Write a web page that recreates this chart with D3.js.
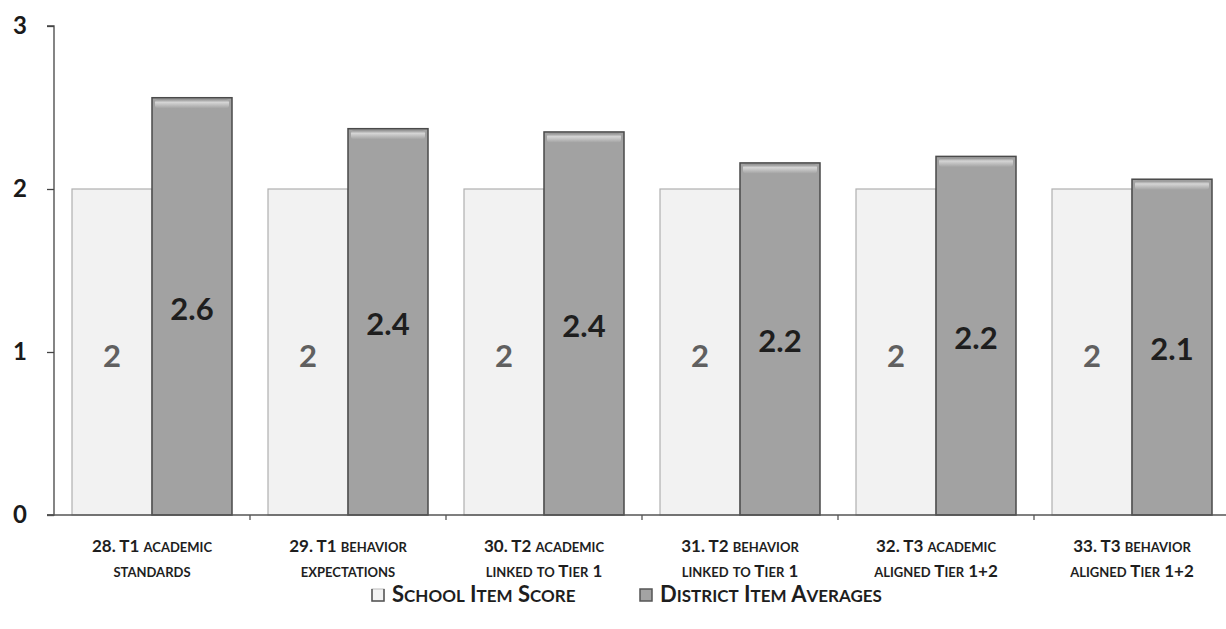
<!DOCTYPE html>
<html><head><meta charset="utf-8">
<script src="https://cdn.jsdelivr.net/npm/d3@7"></script>
<style>
html,body{margin:0;padding:0;background:#fff;}
svg{display:block;font-family:Lato, "Open Sans", sans-serif;}
</style></head>
<body><svg id="c" width="1226" height="629"></svg>
<script>
const categoriesLine1 = ["28. T1 academic","29. T1 behavior","30. T2 academic","31. T2 behavior","32. T3 academic","33. T3 behavior"];
const categoriesLine2 = ["standards","expectations","linked to Tier 1","linked to Tier 1","aligned Tier 1+2","aligned Tier 1+2"];
const schoolScores = [2, 2, 2, 2, 2, 2];
const districtAverages = [2.56, 2.37, 2.35, 2.16, 2.2, 2.06];
const seriesNames = ["School Item Score", "District Item Averages"];
const yTicks = [0, 1, 2, 3];

const svg = d3.select("#c");
const defs = svg.append("defs");
const g1 = defs.append("linearGradient").attr("id","gloss").attr("x1",0).attr("y1",0).attr("x2",0).attr("y2",1);
g1.append("stop").attr("offset","0%").attr("stop-color","#8a8a8a");
g1.append("stop").attr("offset","35%").attr("stop-color","#dedede");
g1.append("stop").attr("offset","100%").attr("stop-color","#a4a4a4");

// manual small caps: split into runs
function smallCaps(sel, text, big, small) {
  const runs = [];
  for (const ch of text) {
    const isLower = ch !== ch.toUpperCase();
    const last = runs[runs.length-1];
    if (last && last.lower === isLower) last.t += ch; else runs.push({t: ch, lower: isLower});
  }
  runs.forEach(r => sel.append("tspan").attr("font-size", r.lower ? small : big).text(r.lower ? r.t.toUpperCase() : r.t));
}

const idx = d3.range(categoriesLine1.length);
const x0 = d3.scaleBand().domain(idx).range([54, 1230]).paddingInner(0).paddingOuter(0);
const x1 = d3.scaleBand().domain([0,1]).range([0, x0.bandwidth()]).paddingInner(0).paddingOuter(0.225);
const y = d3.scaleLinear().domain([0,3]).range([515, 26]);

const data = idx.map(i => ({i, vals:[schoolScores[i], districtAverages[i]]}));
const grp = svg.append("g").selectAll("g").data(data).join("g")
  .attr("transform", d => `translate(${x0(d.i)},0)`);

grp.append("rect")
  .attr("x", x1(0)).attr("width", x1.bandwidth())
  .attr("y", d => y(d.vals[0])).attr("height", d => y(0) - y(d.vals[0]))
  .attr("fill", "#f2f2f2").attr("stroke", "#b0b0b0").attr("stroke-width", 1.2);

grp.append("rect")
  .attr("x", x1(1)).attr("width", x1.bandwidth())
  .attr("y", d => y(d.vals[1])).attr("height", d => y(0) - y(d.vals[1]))
  .attr("fill", "#a2a2a2").attr("stroke", "#4a4a4a").attr("stroke-width", 1.5);
grp.append("rect")
  .attr("x", x1(1) + 3).attr("width", x1.bandwidth() - 6)
  .attr("y", d => y(d.vals[1]) + 1.5).attr("height", 9).attr("rx", 3)
  .attr("fill", "url(#gloss)").attr("opacity", 0.85);

grp.append("text")
  .attr("x", x1(0) + x1.bandwidth()/2)
  .attr("y", d => (y(d.vals[0]) + y(0))/2 + 4)
  .attr("dy", "0.36em").attr("text-anchor","middle")
  .attr("font-size", 31).attr("font-weight", 700).attr("fill", "#606060")
  .text(d => d3.format(".0f")(d.vals[0]));
grp.append("text")
  .attr("x", x1(1) + x1.bandwidth()/2)
  .attr("y", d => (y(d.vals[1]) + y(0))/2 + 2)
  .attr("dy", "0.36em").attr("text-anchor","middle")
  .attr("font-size", 31).attr("font-weight", 700).attr("fill", "#1e1e1e")
  .text(d => d3.format(".1f")(d.vals[1]));

// y axis
const yAxis = svg.append("g").attr("transform","translate(54,0)")
  .call(d3.axisLeft(y).tickValues(yTicks).tickFormat(d3.format("d")).tickSize(7).tickPadding(20));
yAxis.select(".domain").attr("stroke","#444").attr("stroke-width",1.3).attr("d","M-7,26H0V515H-7");
yAxis.selectAll(".tick line").attr("stroke","#444").attr("stroke-width",1.3);
yAxis.selectAll(".tick text").attr("font-size",24).attr("font-weight",700).attr("fill","#1a1a1a")
  .attr("font-family","Lato, sans-serif");

// x axis
const xAxisG = svg.append("g");
xAxisG.append("line").attr("x1",47).attr("x2",1226).attr("y1",y(0)).attr("y2",y(0))
  .attr("stroke","#555").attr("stroke-width",1.5);
xAxisG.selectAll("line.t").data(idx.slice(1)).join("line").attr("class","t")
  .attr("x1", d => x0(d)).attr("x2", d => x0(d))
  .attr("y1", y(0)).attr("y2", y(0)+5).attr("stroke","#555").attr("stroke-width",1.3);

const labG = svg.append("g");
idx.forEach(i => {
  const cx = x0(i) + x0.bandwidth()/2;
  const t1 = labG.append("text").attr("x", cx).attr("y", 552).attr("text-anchor","middle")
    .attr("font-weight",700).attr("fill","#1e1e1e");
  smallCaps(t1, categoriesLine1[i], 17, 13);
  const t2 = labG.append("text").attr("x", cx).attr("y", 577).attr("text-anchor","middle")
    .attr("font-weight",700).attr("fill","#1e1e1e");
  smallCaps(t2, categoriesLine2[i], 17, 13);
});

// legend
const leg = svg.append("g");
const legX = [372, 640];
const legY = 589;
leg.append("rect").attr("x", legX[0]).attr("y", legY).attr("width", 12).attr("height", 12)
  .attr("fill","#f3f3f3").attr("stroke","#bbb").attr("stroke-width",1);
leg.append("path").attr("d", `M${legX[0]},${legY}V${legY+12}H${legX[0]+12}V${legY}`).attr("fill","none").attr("stroke","#555").attr("stroke-width",1.5);
leg.append("rect").attr("x", legX[1]).attr("y", legY).attr("width", 12).attr("height", 12)
  .attr("fill","#a3a3a3").attr("stroke","#555").attr("stroke-width",1.5);
seriesNames.forEach((name, i) => {
  const t = leg.append("text").attr("x", legX[i] + 20).attr("y", 602)
    .attr("font-weight",700).attr("fill","#1e1e1e");
  smallCaps(t, name, 22, 17);
});
</script></body></html>
